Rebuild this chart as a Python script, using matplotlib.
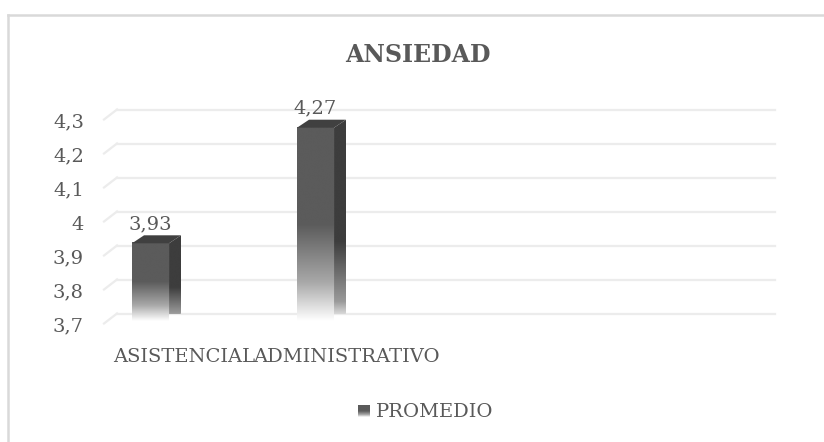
import numpy as np
import matplotlib.pyplot as plt
from matplotlib.patches import Polygon
from matplotlib.colors import LinearSegmentedColormap

categorias = ['ASISTENCIAL', 'ADMINISTRATIVO']
promedio = [3.93, 4.27]
etiquetas = ['3,93', '4,27']
yticks = [3.7, 3.8, 3.9, 4.0, 4.1, 4.2, 4.3]
ytick_labels = ['3,7', '3,8', '3,9', '4', '4,1', '4,2', '4,3']

W, H = 824, 442
plt.rcParams['font.family'] = ['DejaVu Serif']
txt = '#595959'

fig = plt.figure(figsize=(W / 100, H / 100), dpi=100)

# back wall of the 3D plot, in pixels
left, right, top, bottom = 117, 775, 109.5, 313.5
ax = fig.add_axes([left / W, 1 - bottom / H, (right - left) / W, (bottom - top) / H])
ax.set_xlim(-0.276, 3.712)
ax.set_ylim(3.7, 4.3)
ax.axis('off')

# pixels -> data units
px_x = (3.712 + 0.276) / (right - left)
px_y = 0.6 / (bottom - top)
ddx, ddy = -13 * px_x, -10 * px_y   # depth offset to the front plane

# gridlines: back horizontal + diagonal on the left wall
for t in yticks:
    ax.plot([-0.276, 3.712], [t, t], color='#ececec', lw=1.6, clip_on=False, zorder=1)
    ax.plot([-0.276 + ddx, -0.276], [t + ddy, t], color='#ececec', lw=1.6,
            clip_on=False, zorder=1)

for t, lab in zip(yticks, ytick_labels):
    ax.text(-0.276 + ddx - 20 * px_x, t + ddy - 1 * px_y, lab, ha='right',
            va='center_baseline', fontsize=14, color=txt)

# bars
w = 37 * px_x
bdx, bdy = -12 * px_x, -8 * px_y
front_cmap = LinearSegmentedColormap.from_list(
    'f', [(0, '#5b5b5b'), (0.5, '#5b5b5b'), (0.8, '#a8a8a8'), (1, '#ffffff')])
side_cmap = LinearSegmentedColormap.from_list(
    's', [(0, '#3d3d3d'), (0.6, '#3d3d3d'), (0.9, '#9a9a9a'), (1, '#ffffff')])
grad = np.linspace(0, 1, 256).reshape(-1, 1)

for i, v in enumerate(promedio):
    x0 = i - w / 2
    x1 = i + w / 2
    # front face
    fx0, fx1 = x0 + bdx, x1 + bdx
    fy0, fy1 = 3.7 + bdy, v + bdy
    ax.imshow(grad, cmap=front_cmap, aspect='auto', extent=[fx0, fx1, fy0, fy1],
              origin='upper', zorder=3, clip_on=False, interpolation='bicubic')
    # side face
    side = Polygon([[fx1, fy0], [x1, 3.7], [x1, v], [fx1, fy1]], closed=True,
                   facecolor='none', edgecolor='none')
    ax.add_patch(side)
    im = ax.imshow(grad, cmap=side_cmap, aspect='auto', extent=[fx1, x1, fy0, v],
                   origin='upper', zorder=3, clip_on=True, interpolation='bicubic')
    im.set_clip_path(side)
    # top face
    ax.add_patch(Polygon([[fx0, fy1], [fx1, fy1], [x1, v], [x0, v]], closed=True,
                         facecolor='#404040', edgecolor='none', zorder=4, clip_on=False))
    ax.text(fx0 + w / 2, fy1 + 10 * px_y, etiquetas[i], ha='center', va='bottom',
            fontsize=14, color=txt, zorder=5)

# category labels (shifted right by the 3D perspective)
for i, c in enumerate(categorias):
    ax.text(i + [0.13, 0.115][i], 3.7 - 41 * px_y, c, ha='center',
            va='center_baseline', fontsize=14, color=txt)

fig.text(418 / W, 1 - 52 / H, 'ANSIEDAD', ha='center', va='center_baseline',
         fontsize=17, fontweight='bold', color=txt)

# legend
lax = fig.add_axes([358 / W, 1 - 417 / H, 12 / W, 12 / H])
lax.imshow(grad, cmap=front_cmap, aspect='auto', extent=[0, 1, 0, 1], origin='upper')
lax.axis('off')
fig.text(376 / W, 1 - 410 / H, 'PROMEDIO', ha='left', va='center_baseline',
         fontsize=14, color=txt)

# chart border (left and top visible)
fig.add_artist(plt.Line2D([8 / W, 8 / W], [0, 1 - 14.5 / H], color='#d9d9d9', lw=1.8))
fig.add_artist(plt.Line2D([8 / W, 1], [1 - 14.5 / H, 1 - 14.5 / H], color='#d9d9d9', lw=1.8))

fig.savefig('out.png', dpi=100)
